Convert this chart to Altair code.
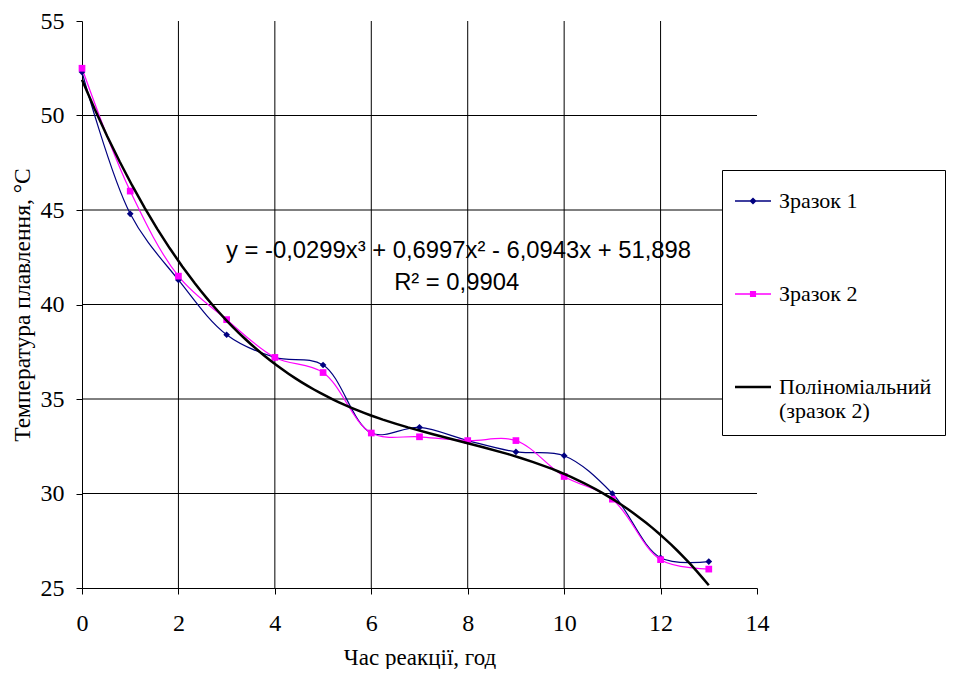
import altair as alt
import pandas as pd

# ---- data ----
hours = [0, 1, 2, 3, 4, 5, 6, 7, 8, 9, 10, 11, 12, 13]
sample1 = [52.3, 44.8, 41.3, 38.4, 37.2, 36.8, 33.2, 33.5, 32.8, 32.2, 32.0, 30.0, 26.6, 26.4]
sample2 = [52.5, 46.0, 41.5, 39.2, 37.2, 36.4, 33.2, 33.0, 32.8, 32.8, 30.9, 29.7, 26.5, 26.0]

series_names = ["Зразок 1", "Зразок 2", "Поліноміальний (зразок 2)"]
series_colors = ["#000080", "#FF00FF", "#000000"]

x_ticks = [0, 2, 4, 6, 8, 10, 12, 14]
y_ticks = [25, 30, 35, 40, 45, 50, 55]
x_grid = [2, 4, 6, 8, 10, 12]
y_grid = [30, 35, 40, 45, 50]

eq_text = ["y = -0,0299x³ + 0,6997x² - 6,0943x + 51,898", "R² = 0,9904"]
eq_x = [7.81, 7.77]
eq_y = [42.82, 41.13]

# ---- tables ----
df = pd.DataFrame({
    "x": hours + hours,
    "y": sample1 + sample2,
    "series": [series_names[0]] * len(hours) + [series_names[1]] * len(hours),
})
df2 = df[df["series"] == series_names[1]]
grid_x_df = pd.DataFrame({"x": x_grid})
grid_y_df = pd.DataFrame({"y": y_grid})
eq_df = pd.DataFrame({"x": eq_x, "y": eq_y, "t": eq_text})
legend_df = pd.DataFrame({"series": series_names})

SERIF = "Liberation Serif"
SANS = "Liberation Sans"

x_enc = alt.X("x:Q", scale=alt.Scale(domain=[0, 14], nice=False),
              axis=alt.Axis(values=x_ticks, grid=False, tickSize=6, tickColor="black",
                            domainColor="black", labelFont=SERIF, labelFontSize=24,
                            labelColor="black", labelPadding=17, labelFlush=False,
                            title="Час реакції, год", titleFont=SERIF, titleFontSize=23,
                            titleFontWeight="normal", titleColor="black", titlePadding=11))
y_enc = alt.Y("y:Q", scale=alt.Scale(domain=[25, 55], nice=False, zero=False),
              axis=alt.Axis(values=y_ticks, grid=False, tickSize=6, tickColor="black",
                            domainColor="black", labelFont=SERIF, labelFontSize=24,
                            labelColor="black", labelPadding=12,
                            title="Температура плавлення, °C", titleFont=SERIF,
                            titleFontSize=23.5, titleFontWeight="normal", titleColor="black",
                            titlePadding=6))

vgrid = alt.Chart(grid_x_df).mark_rule(color="black", strokeWidth=1).encode(x=x_enc)
hgrid = alt.Chart(grid_y_df).mark_rule(color="black", strokeWidth=1).encode(y=y_enc)

color_data = alt.Color("series:N", scale=alt.Scale(domain=series_names[:2], range=series_colors[:2]),
                       legend=None)

lines = alt.Chart(df).mark_line(interpolate="catmull-rom", strokeWidth=1.2).encode(
    x=x_enc, y=y_enc, color=color_data, detail="series:N")

points = alt.Chart(df).mark_point(filled=True, opacity=1).encode(
    x=x_enc, y=y_enc, color=color_data,
    shape=alt.Shape("series:N", scale=alt.Scale(domain=series_names[:2], range=["diamond", "square"]),
                    legend=None),
    size=alt.value(45))

trend = alt.Chart(df2).transform_regression(
    "x", "y", method="poly", order=3, extent=[0, 13]
).mark_line(color="black", strokeWidth=2.5).encode(x=x_enc, y=y_enc)

eq = alt.Chart(eq_df).mark_text(font=SANS, fontSize=23.8, color="black", align="center",
                                baseline="middle").encode(x=x_enc, y=y_enc, text="t:N")

legend_paths = [
    "M-1,-0.035H1V0.035H-1Z M0,-0.2L0.2,0L0,0.2L-0.2,0Z",
    "M-1,-0.035H1V0.035H-1Z M-0.17,-0.17H0.17V0.17H-0.17Z",
    "M-1,-0.07H1V0.07H-1Z",
]
leg = alt.Legend(title=None, orient="none", legendX=640, legendY=149, fillColor="white",
                 strokeColor="black", padding=13, symbolSize=1296, symbolStrokeWidth=0,
                 labelFont=SERIF, labelFontSize=22, labelColor="black", labelOffset=8,
                 rowPadding=64, labelLimit=400, zindex=1,
                 labelExpr="datum.label == 'Поліноміальний (зразок 2)' ? ['Поліноміальний', '(зразок 2)'] : datum.label")

legend_layer = alt.Chart(legend_df).transform_filter("false").mark_point(
    filled=True, size=1296, opacity=1, strokeWidth=0
).encode(
    color=alt.Color("series:N", scale=alt.Scale(domain=series_names, range=series_colors), legend=leg),
    shape=alt.Shape("series:N", scale=alt.Scale(domain=series_names, range=legend_paths), legend=leg),
)

chart = alt.layer(vgrid, hgrid, lines, points, trend, eq, legend_layer).resolve_scale(
    color="independent", shape="independent"
).properties(
    width=675, height=567,
    padding={"left": 2, "top": 1, "right": 0, "bottom": 0},
    background="white",
).configure_view(stroke=None)

chart.save("out.html", embed_options={"renderer": "svg", "actions": False})
